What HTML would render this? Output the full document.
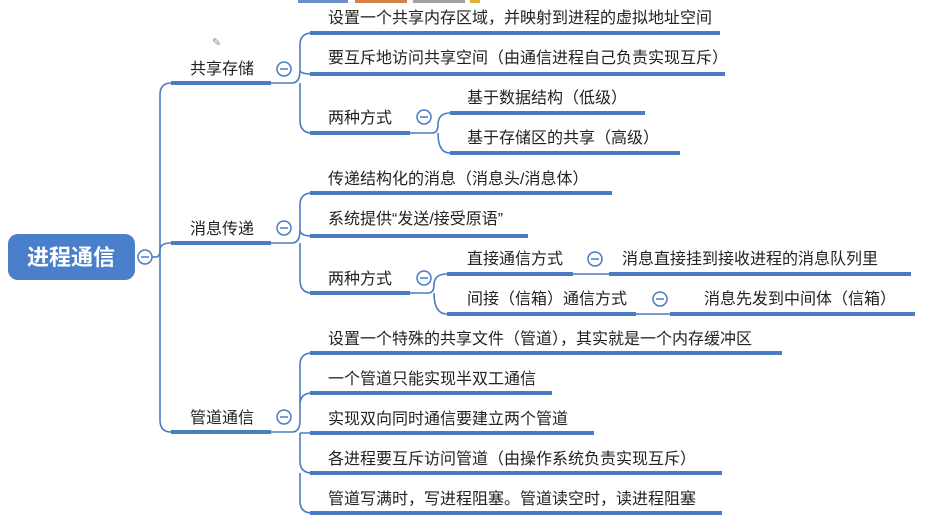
<!DOCTYPE html>
<html><head><meta charset="utf-8"><style>
html,body{margin:0;padding:0;background:#fff;width:951px;height:520px;overflow:hidden}
svg text{font-family:"Liberation Sans","Noto Sans CJK SC",sans-serif;font-size:16px;fill:#222}
</style></head><body>
<svg width="951" height="520" viewBox="0 0 951 520" xmlns="http://www.w3.org/2000/svg">
<rect x="298" y="0" width="50" height="3" fill="#6b8fc8"/>
<rect x="355" y="0" width="52" height="3" fill="#d8804a"/>
<rect x="413" y="0" width="52" height="3" fill="#a0a0a0"/>
<rect x="470" y="0" width="10" height="3" fill="#e0b030"/>
<g fill="none" stroke="#4a7cc4" stroke-width="1.6">
<path d="M152 257 H156"/>
<path d="M171 83 Q160 83 160 95 V420 Q160 432 171 432"/>
<path d="M156 257 Q160 257 160 250 M160 250 Q160 243 171 243"/>
<path d="M271 83 H292 M292 83 Q300 83 300 70 V45 Q300 33 312 33 M300 70 Q300 74 312 74 M300 83 V120 Q300 133 312 133"/>
<path d="M410 133 H432 M432 133 Q438 133 438 125 Q438 113 450 113 M438 133 Q438 153 450 153"/>
<path d="M271 243 H292 M292 243 Q300 243 300 230 V205 Q300 193 312 193 M300 230 Q300 236 312 236 M300 243 V280 Q300 293 312 293"/>
<path d="M410 293 H428 M428 293 Q434 293 434 285 Q434 274 447 274 M434 293 Q434 314 447 314"/>
<path d="M573 274 H609 M636 314 H670"/>
<path d="M271 432 H292 M292 432 Q300 432 300 420 V365 Q300 353 312 353 M300 405 Q300 393 312 393 M300 433 H312 M300 433 V461 Q300 473 312 473 M300 473 V501 Q300 513 312 513"/>
</g>
<g stroke="#4a7cc4" stroke-width="4" stroke-linecap="butt">
<line x1="171" y1="83" x2="271" y2="83"/>
<line x1="171" y1="243" x2="271" y2="243"/>
<line x1="171" y1="432" x2="271" y2="432"/>
<line x1="310" y1="33" x2="720" y2="33"/>
<line x1="310" y1="74" x2="725" y2="74"/>
<line x1="310" y1="133" x2="410" y2="133"/>
<line x1="450" y1="113" x2="645" y2="113"/>
<line x1="450" y1="153" x2="680" y2="153"/>
<line x1="310" y1="193" x2="612" y2="193"/>
<line x1="310" y1="236" x2="528" y2="236"/>
<line x1="310" y1="293" x2="410" y2="293"/>
<line x1="447" y1="274" x2="573" y2="274"/>
<line x1="609" y1="274" x2="911" y2="274"/>
<line x1="447" y1="314" x2="636" y2="314"/>
<line x1="670" y1="314" x2="915" y2="314"/>
<line x1="310" y1="353" x2="782" y2="353"/>
<line x1="310" y1="393" x2="552" y2="393"/>
<line x1="310" y1="433" x2="594" y2="433"/>
<line x1="310" y1="473" x2="722" y2="473"/>
<line x1="310" y1="513" x2="722" y2="513"/>
</g>
<rect x="8" y="234" width="127" height="46" rx="10" fill="#4a7fcc"/>
<text x="71" y="265" text-anchor="middle" style="fill:#fff;font-size:22px;font-weight:bold">进程通信</text>
<g fill="#fff" stroke="#4a7cc4" stroke-width="1.5">
<circle cx="145" cy="257" r="7"/><circle cx="284" cy="69" r="7"/><circle cx="284" cy="228" r="7"/><circle cx="284" cy="417" r="7"/>
<circle cx="424" cy="117" r="7"/><circle cx="424" cy="278" r="7"/><circle cx="595" cy="259" r="7"/><circle cx="660" cy="299" r="7"/>
</g>
<g stroke="#4a7cc4" stroke-width="1.5">
<line x1="141" y1="257" x2="149" y2="257"/><line x1="280" y1="69" x2="288" y2="69"/><line x1="280" y1="228" x2="288" y2="228"/><line x1="280" y1="417" x2="288" y2="417"/>
<line x1="420" y1="117" x2="428" y2="117"/><line x1="420" y1="278" x2="428" y2="278"/><line x1="591" y1="259" x2="599" y2="259"/><line x1="656" y1="299" x2="664" y2="299"/>
</g>
<text x="190" y="74">共享存储</text>
<text x="190" y="234">消息传递</text>
<text x="190" y="423">管道通信</text>
<text x="328" y="23">设置一个共享内存区域，并映射到进程的虚拟地址空间</text>
<text x="328" y="63">要互斥地访问共享空间（由通信进程自己负责实现互斥）</text>
<text x="328" y="123">两种方式</text>
<text x="467" y="103">基于数据结构（低级）</text>
<text x="467" y="143">基于存储区的共享（高级）</text>
<text x="328" y="184">传递结构化的消息（消息头/消息体）</text>
<text x="328" y="224">系统提供“发送/接受原语”</text>
<text x="328" y="284">两种方式</text>
<text x="467" y="264">直接通信方式</text>
<text x="622" y="264">消息直接挂到接收进程的消息队列里</text>
<text x="467" y="304">间接（信箱）通信方式</text>
<text x="704" y="304">消息先发到中间体（信箱）</text>
<text x="328" y="344">设置一个特殊的共享文件（管道），其实就是一个内存缓冲区</text>
<text x="328" y="384">一个管道只能实现半双工通信</text>
<text x="328" y="424">实现双向同时通信要建立两个管道</text>
<text x="328" y="464">各进程要互斥访问管道（由操作系统负责实现互斥）</text>
<text x="328" y="504">管道写满时，写进程阻塞。管道读空时，读进程阻塞</text>
<text x="212" y="46" style="font-size:11px;fill:#888">✎</text>
</svg>
</body></html>
